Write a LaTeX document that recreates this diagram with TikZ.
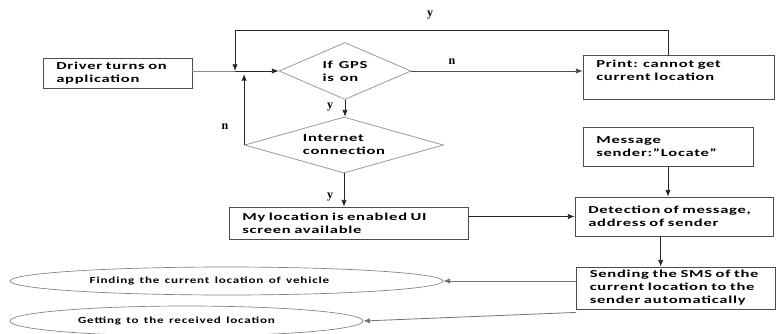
\documentclass[tikz,border=0pt]{standalone}
\usepackage{fontspec}
\setmainfont{Carlito}
\newfontfamily\boxfont{Carlito}[FakeStretch=1.55,LetterSpace=7,WordSpace=1.3]
\newfontfamily\ovalfont{Carlito}[FakeStretch=1.4,LetterSpace=9,WordSpace=1.4]
\newfontfamily\labfont{Liberation Serif}
\usetikzlibrary{shapes.geometric,arrows.meta}
\tikzset{
  flowbox/.style={draw=black!70, line width=0.6pt, rectangle, align=left, inner xsep=10pt, inner ysep=0pt,
    font=\boxfont\bfseries\fontsize{8}{9.75}\selectfont},
  decision/.style={diamond, draw=black!40, line width=0.6pt, align=left, inner sep=0pt,
    font=\boxfont\bfseries\fontsize{8}{9.75}\selectfont},
  goal/.style={ellipse, draw=black!50, line width=0.5pt, inner sep=0pt,
    font=\ovalfont\bfseries\fontsize{7}{8.5}\selectfont},
  flag/.style={font=\labfont\bfseries\fontsize{9}{10}\selectfont, inner sep=0pt},
  arrow/.style={->, draw=black!85, line width=0.6pt},
}
\begin{document}
\begin{tikzpicture}[x=0.75pt,y=0.75pt,yscale=-1,xscale=1, >={Latex[length=5pt,width=4pt]}]
\useasboundingbox (0,0) rectangle (776,333);

%Shapes
\node[flowbox, text width=91.75pt, minimum height=22.5pt] (driver) at (117.5,73) {\mbox{Driver turns on}\\application};
\node[decision, shape aspect=2.3, minimum width=99pt, minimum height=42.75pt] (gps) at (345,71) {If GPS\\is on};
\node[decision, shape aspect=3.55, minimum width=149.25pt, minimum height=42pt] (net) at (344,145) {Internet\\connection};
\node[flowbox, text width=123.25pt, minimum height=33pt] (print) at (678.5,77) {\mbox{Print: cannot get}\\\mbox{current location}\\\mbox{}};
\node[flowbox, text width=107.5pt, minimum height=29.25pt] (msg) at (668,146.5) {Message\\\mbox{sender:”Locate”}};
\node[flowbox, text width=159.25pt, minimum height=24pt] (myloc) at (348.5,223) {\mbox{My location is enabled UI}\\\mbox{screen available}};
\node[flowbox, text width=128.5pt, minimum height=29.25pt] (detect) at (674,216.5) {\mbox{Detection of message,}\\\mbox{address of sender}};
\node[flowbox, text width=129.25pt, minimum height=31.5pt] (send) at (676,288) {\mbox{Sending the SMS of the}\\\mbox{current location to the}\\\mbox{sender automatically}};
\node[goal, minimum width=324.75pt, minimum height=21pt] (find) at (226.5,281) {Finding the current location of vehicle\hspace*{25.5pt}};
\node[goal, minimum width=264.75pt, minimum height=22.5pt] (get) at (186.5,321) {Getting to the received location\hspace*{15pt}};

%Labels
\node[flag] (ytop) at (430,15) {y};
\node[flag] (nright) at (452,62) {n};
\node[flag] (nleft) at (225,127) {n};
\node[flag] (ygps) at (330,107) {y};
\node[flag] (ynet) at (330,197) {y};

%Straight Lines
\coordinate (join) at (235,71);
\coordinate (loop) at (235,30);
\coordinate (nback) at (242,74);
\draw[draw=black!45, line width=0.6pt] (driver.east |- join) -- (join);
\draw[arrow] (join) -- (gps.west);
\draw[arrow] ([xshift=-7.5pt]print.north) |- (loop) -- (join);
\draw[arrow] (net.west) -- (net.west |- nback);
\draw[arrow] (gps.south) -- (gps.south |- net.north);
\draw[arrow, draw=black!70] (gps.east) -- (gps.east -| print.west);
\draw[arrow] (net.south) -- (net.south |- myloc.north);
\draw[arrow] (myloc.east |- detect.west) -- (detect.west);
\draw[arrow] (msg.south) -- (msg.south |- detect.north);
\draw[arrow] ([xshift=-10pt]detect.south) -- ([xshift=-10pt]detect.south |- send.north);
\draw[arrow, draw=black!55] (send.west |- find.east) -- (find.east);
\draw[arrow, draw=black!55] ([yshift=2.25pt]send.south west) -- (get.east);
\end{tikzpicture}
\end{document}
